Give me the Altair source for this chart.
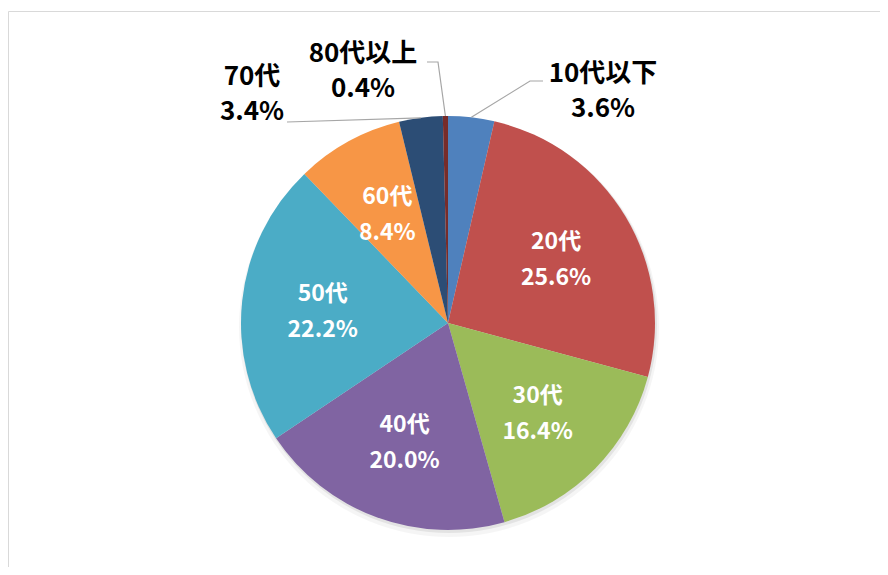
import math
import altair as alt
import pandas as pd

# ---- data ----
categories = ["10代以下", "20代", "30代", "40代", "50代", "60代", "70代", "80代以上"]
shares = [3.6, 25.6, 16.4, 20.0, 22.2, 8.4, 3.4, 0.4]
colors = ["#4F81BD", "#C0504D", "#9BBB59", "#8064A2", "#4BACC6", "#F79646", "#2C4D75", "#772C2A"]

# ---- layout (plot pixels) ----
W, H = 872, 559
CX, CY, R = 440, 315, 207
INNER_R = 126
FONT = "Noto Sans CJK JP"
OUT_LINE_GAP = 35
callouts = {
    "10代以下": {"label": (595, 83), "elbow": (522, 73), "end": (535, 73)},
    "80代以上": {"label": (355, 63), "elbow": (430, 54), "end": (419, 54)},
    "70代": {"label": (244, 86), "elbow": (279, 114), "end": (279, 114)},
}

df = pd.DataFrame({"cat": categories, "value": shares, "idx": list(range(len(categories)))})
df["pct"] = [f"{v:.1f}%" for v in shares]
df["inner"] = [("" if c in callouts else f"{c}\n{p}") for c, p in zip(categories, df["pct"])]
total = sum(shares)
df["mid"] = df["value"].cumsum() - df["value"] / 2

# leader lines: anchor on the pie edge at slice middle, then elbow, then end
rows = []
lab_rows = []
for c, lay in callouts.items():
    mid = float(df.loc[df["cat"] == c, "mid"].iloc[0])
    a = mid / total * 2 * math.pi
    rows.append({"cat": c, "step": 0, "x": CX + R * math.sin(a), "y": CY - R * math.cos(a)})
    rows.append({"cat": c, "step": 1, "x": lay["elbow"][0], "y": lay["elbow"][1]})
    rows.append({"cat": c, "step": 2, "x": lay["end"][0], "y": lay["end"][1]})
    pct = df.loc[df["cat"] == c, "pct"].iloc[0]
    lx, ly = lay["label"]
    lab_rows.append({"cat": c, "text": c, "x": lx, "y": ly - OUT_LINE_GAP / 2})
    lab_rows.append({"cat": c, "text": pct, "x": lx, "y": ly + OUT_LINE_GAP / 2})
lines_df = pd.DataFrame(rows)
labels_df = pd.DataFrame(lab_rows)

one = pd.DataFrame({"k": [0]})

border = alt.Chart(one).mark_rect(filled=False, stroke="#D9D9D9", strokeWidth=1).encode(
    x=alt.value(0.5), y=alt.value(3.5), x2=alt.value(W + 60), y2=alt.value(H + 60)
)

shadow1 = alt.Chart(one).mark_arc(outerRadius=R + 3, theta=0, theta2=2 * math.pi,
                                  color="#000000", opacity=0.04).encode(
    x=alt.value(CX + 1), y=alt.value(CY + 4)
)
shadow2 = alt.Chart(one).mark_arc(outerRadius=R + 1, theta=0, theta2=2 * math.pi,
                                  color="#000000", opacity=0.07).encode(
    x=alt.value(CX + 1), y=alt.value(CY + 2)
)

pie = alt.Chart(df).mark_arc(outerRadius=R).encode(
    theta=alt.Theta("value:Q", stack=True),
    color=alt.Color("cat:N", scale=alt.Scale(domain=categories, range=colors), legend=None),
    order=alt.Order("idx:Q"),
    x=alt.value(CX),
    y=alt.value(CY),
)

inner_text = alt.Chart(df).mark_text(
    radius=INNER_R, font=FONT, fontSize=23, fontWeight="bold", color="white",
    lineBreak="\n", lineHeight=36, align="center", baseline="middle", dy=-16
).encode(
    theta=alt.Theta("value:Q", stack=True),
    detail="cat:N",
    order=alt.Order("idx:Q"),
    text="inner:N",
    x=alt.value(CX),
    y=alt.value(CY),
)

leaders = alt.Chart(lines_df).mark_line(color="#A6A6A6", strokeWidth=1.2).encode(
    x=alt.X("x:Q", scale=None, axis=None),
    y=alt.Y("y:Q", scale=None, axis=None),
    detail="cat:N",
    order="step:Q",
)

outer_text = alt.Chart(labels_df).mark_text(
    font=FONT, fontSize=26, fontWeight="bold", color="#000000",
    align="center", baseline="middle"
).encode(
    x=alt.X("x:Q", scale=None, axis=None),
    y=alt.Y("y:Q", scale=None, axis=None),
    text="text:N",
)

chart = alt.layer(border, shadow1, shadow2, pie, inner_text, leaders, outer_text).properties(
    width=W, height=H, padding=0, autosize=alt.AutoSizeParams(type="none")
).configure_view(strokeWidth=0)

chart.save("out.html", embed_options={"renderer": "svg", "actions": False})
